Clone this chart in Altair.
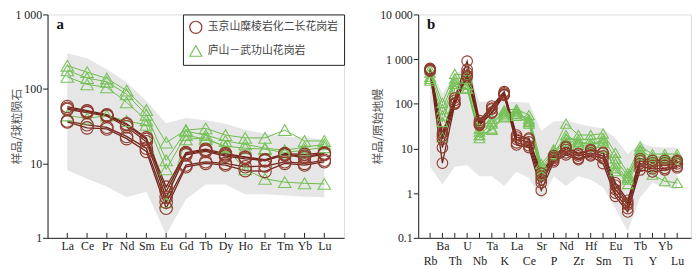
import json
import altair as alt
import pandas as pd

# ---------------- data ----------------
REE = ["La", "Ce", "Pr", "Nd", "Sm", "Eu", "Gd", "Tb", "Dy", "Ho", "Er", "Tm", "Yb", "Lu"]
REE_ENV_HI = [301, 259, 184, 123, 69, 34.5, 40.7, 38, 34, 28.3, 25, 23, 22.4, 21]
REE_ENV_LO = [8.1, 6.2, 4.9, 3.5, 4.16, 1.1, 3.3, 5.2, 5.2, 3.85, 3.85, 3.7, 3.56, 3.5]
REE_BROWN = [
    [58, 51, 45, 34, 22, 4.8, 14, 15.5, 13.5, 12.2, 11.2, 13.5, 13.2, 13.8],
    [55, 50, 44, 33, 21, 4.2, 13.5, 15, 13, 12, 10.8, 13.2, 12.5, 13.5],
    [53, 48, 43, 31, 19.5, 3.5, 13, 14.5, 12.5, 11.5, 11, 13, 12, 13.2],
    [37, 33, 30.5, 23, 16, 3.0, 9.5, 10.5, 10, 9, 9.2, 10.5, 10, 11],
    [36, 30, 29, 21.5, 14.5, 2.5, 9, 10, 9.5, 8, 7.8, 10, 9.5, 10.5],
]
REE_GREEN = [
    [205, 168, 138, 95, 52, 19, 28, 29.5, 24, 22, 22, 28, 20, 20],
    [178, 140, 125, 85, 45, 11, 27, 24, 20, 18, 16, 15, 16.5, 18],
    [145, 115, 105, 66, 38, 8.3, 24, 21, 17, 16, 15.5, 14, 15, 16.5],
    [44, 40, 44, 37, 33, 3.0, 21, 22, 16.5, 8.3, 6.2, 5.6, 5.4, 5.3],
]

PM = ["Rb", "Ba", "Th", "U", "Nb", "Ta", "K", "La", "Ce", "Sr", "P",
      "Nd", "Zr", "Hf", "Sm", "Eu", "Ti", "Tb", "Y", "Yb", "Lu"]
PM_ENV_HI = [650, 170, 450, 700, 110, 115, 115, 110, 105, 25, 40, 42, 36, 31, 28, 17, 7.5, 13.5, 11, 10.5, 10.5]
PM_ENV_LO = [3.9, 1.56, 3.9, 4.2, 2.4, 2.4, 1.45, 3.0, 2.2, 0.69, 2.4, 1.45, 2.4, 2.0, 1.35, 0.45, 0.14, 0.8, 1.7, 1.35, 1.22]
PM_BROWN = [
    [620, 22, 135, 900, 42, 89, 187, 20, 17, 2.8, 6.9, 11.2, 7.8, 9.5, 8.2, 1.7, 0.69, 5.9, 5.4, 5.4, 5.4],
    [600, 19, 120, 590, 38, 80, 175, 18, 16, 2.4, 6.3, 10.5, 7.5, 9, 7.8, 1.5, 0.6, 5.3, 4.8, 4.8, 5.0],
    [580, 16, 105, 500, 36, 76, 165, 16, 14, 2.0, 5.9, 9.5, 6.8, 8, 6.8, 1.2, 0.55, 4.6, 4.2, 4.2, 4.5],
    [560, 10.5, 100, 430, 34, 65, 160, 13.4, 11.5, 1.7, 5.4, 8, 6, 7.2, 5.9, 1.0, 0.45, 4.0, 3.5, 3.6, 4.0],
    [540, 4.7, 98, 400, 33, 62, 155, 12, 10.5, 1.15, 5.0, 7.2, 5.6, 6.8, 4.6, 0.85, 0.38, 3.3, 3.0, 3.3, 3.7],
]
PM_GREEN = [
    [590, 105, 465, 430, 28, 46, 72, 76, 56, 4.5, 9.5, 36, 20, 20, 21.6, 8, 2.8, 11.2, 7.5, 7.5, 7.5],
    [500, 76, 365, 365, 24, 39, 65, 64, 46, 3.8, 8.5, 17, 16, 16, 17, 5.9, 2.4, 8.8, 6.4, 6.4, 6.4],
    [400, 55, 310, 265, 20, 36, 60, 59, 42, 3.3, 7.5, 14, 14, 12.6, 13.4, 4.6, 2.0, 7.5, 5.4, 5.9, 5.9],
    [330, 39, 280, 220, 17, 28, 55, 54, 36, 2.8, 7, 12, 12, 11, 10.4, 3.6, 1.6, 6.9, 5, 5.4, 5.4],
    [360, 18, 220, 220, 20, 26, 50, 70, 39, 2.5, 6.9, 20, 13, 13, 15, 3.1, 2.2, 9.5, 2.6, 1.85, 1.7],
]

LEG_BROWN = "玉京山糜棱岩化二长花岗岩"
LEG_GREEN = "庐山－武功山花岗岩"

Y_A_VALUES = [1, 10, 100, 1000]
Y_A_LABELS = ["1", "10", "100", "1 000"]
Y_B_VALUES = [0.1, 1, 10, 100, 1000, 10000]
Y_B_LABELS = ["0.1", "1", "10", "100", "1 000", "10 000"]

TITLE_A = "样品/球粒陨石"
TITLE_B = "样品/原始地幔"

# ---------------- style ----------------
BROWN_PT = "#8E3A2C"
BROWN_LN = "#72261B"
GREEN_PT = "#78C25A"
GREEN_LN = "#6CBB4C"
ENV = "#E6E6E6"
INK = "#222222"
SERIF = "Liberation Serif"
CJK = "Noto Sans CJK SC"
H = 226


def long_df(brown, green):
    rows = []
    for k, s in enumerate(green):
        for i, v in enumerate(s):
            rows.append({"i": i, "v": v, "s": f"g{k}", "grp": LEG_GREEN})
    for k, s in enumerate(brown):
        for i, v in enumerate(s):
            rows.append({"i": i, "v": v, "s": f"b{k}", "grp": LEG_BROWN})
    return pd.DataFrame(rows)


def panel(names, env_hi, env_lo, brown, green, yvals, ylabels, title, title_x,
          width, xdom, tag, msize, two_rows, show_legend):
    n = len(names)
    env = pd.DataFrame({"i": list(range(n)), "hi": env_hi, "lo": env_lo})
    df = long_df(brown, green)
    ticks = pd.DataFrame({"i": list(range(n))})

    names_js = json.dumps(names, ensure_ascii=False)
    if two_rows:
        lab = f"datum.value % 2 == 1 ? [{names_js}[datum.value], ''] : ['', {names_js}[datum.value]]"
    else:
        lab = f"{names_js}[datum.value]"
    xaxis = alt.Axis(values=list(range(n)), labelExpr=lab, ticks=False, labelPadding=3,
                     labelLineHeight=15, labelFont=SERIF, labelFontSize=12, labelColor=INK,
                     domainColor=INK, grid=False, labelAngle=0, labelOverlap=False,
                     labelBound=False, labelFlush=False)
    xscale = alt.Scale(domain=xdom, nice=False, zero=False)

    ylab = f"{json.dumps(ylabels)}[indexof({json.dumps(yvals)}, datum.value)]"
    yaxis = alt.Axis(values=yvals, labelExpr=ylab, tickSize=5, labelPadding=1, grid=False,
                     labelFont=SERIF, labelFontSize=12, labelColor=INK, domainColor=INK,
                     tickColor=INK, title=title, titleFont=CJK, titleFontSize=12,
                     titleFontWeight="normal", titleColor="#555555", titleAngle=270,
                     titleAlign="center", titleBaseline="middle", titleX=title_x, titleY=H / 2,
                     labelOverlap=False)
    yscale = alt.Scale(type="log", domain=[yvals[0], yvals[-1]], nice=False)

    X = alt.X("i:Q", scale=xscale, axis=xaxis, title=None)

    area = alt.Chart(env).mark_area(color=ENV).encode(
        x=X, y=alt.Y("hi:Q", scale=yscale, axis=yaxis), y2="lo:Q")

    g_lines = alt.Chart(df).transform_filter(alt.datum.grp == LEG_GREEN).mark_line(
        color=GREEN_LN, strokeWidth=1).encode(
        x=X, y=alt.Y("v:Q", scale=yscale, axis=yaxis), detail="s:N")
    b_lines = alt.Chart(df).transform_filter(alt.datum.grp == LEG_BROWN).mark_line(
        color=BROWN_LN, strokeWidth=1.3).encode(
        x=X, y=alt.Y("v:Q", scale=yscale, axis=yaxis), detail="s:N")

    if show_legend:
        legend = alt.Legend(title=None, orient="top-right", offset=0, strokeColor=INK,
                            fillColor="white", padding=6, labelFont=CJK, labelFontSize=11,
                            labelColor="#444444", symbolSize=150, symbolStrokeWidth=1.2,
                            rowPadding=7, labelOffset=5, symbolFillColor="transparent")
    else:
        legend = None
    cscale = alt.Scale(domain=[LEG_BROWN, LEG_GREEN], range=[BROWN_PT, GREEN_PT])
    sscale = alt.Scale(domain=[LEG_BROWN, LEG_GREEN], range=["circle", "triangle-up"])
    pts = alt.Chart(df).mark_point(filled=False, size=msize, strokeWidth=1.1, opacity=1).encode(
        x=X, y=alt.Y("v:Q", scale=yscale, axis=yaxis),
        color=alt.Color("grp:N", scale=cscale, legend=legend),
        shape=alt.Shape("grp:N", scale=sscale, legend=legend),
        order=alt.Order("grp:N", sort="ascending"),
    )

    tick_rules = alt.Chart(ticks).mark_rule(color=INK, strokeWidth=1).encode(
        x=X, y=alt.value(H - 5), y2=alt.value(H))

    label = alt.Chart(pd.DataFrame({"t": [tag]})).mark_text(
        font=SERIF, fontWeight="bold", fontSize=15, align="left", baseline="middle",
        color="#111111").encode(text="t:N", x=alt.value(9), y=alt.value(10))

    return alt.layer(area, g_lines, b_lines, pts, tick_rules, label).properties(
        width=width, height=H)


left = panel(REE, REE_ENV_HI, REE_ENV_LO, REE_BROWN, REE_GREEN, Y_A_VALUES, Y_A_LABELS,
             TITLE_A, -31, 300, [-1, 14], "a", 160, False, True)
right = panel(PM, PM_ENV_HI, PM_ENV_LO, PM_BROWN, PM_GREEN, Y_B_VALUES, Y_B_LABELS,
              TITLE_B, -41, 276, [-0.96, 21.12], "b", 115, True, False)

chart = alt.hconcat(left, right, spacing=26).resolve_scale(
    color="independent", shape="independent"
).properties(
    padding={"left": 2, "top": -2, "right": 0, "bottom": 0}
).configure_view(stroke=INK, strokeWidth=1.2).configure(background="white")

chart.save("out.html", embed_options={"renderer": "svg", "actions": False})
